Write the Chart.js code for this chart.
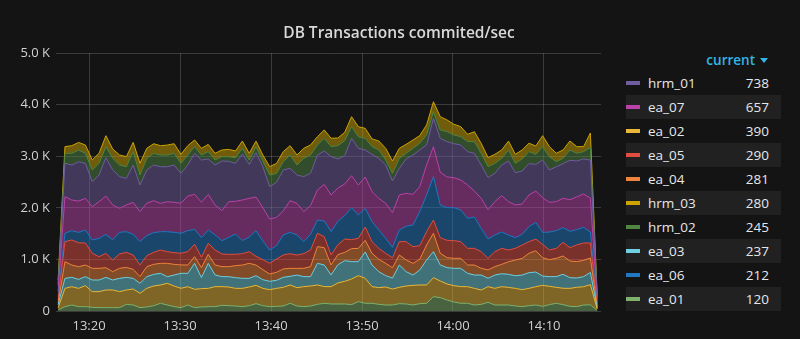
<!DOCTYPE html>
<html>
<head>
<meta charset="utf-8">
<script src="https://cdn.jsdelivr.net/npm/chart.js@4.4.1/dist/chart.umd.min.js"></script>
<style>
    body { margin: 0; background: #141414; font-family: "Open Sans", sans-serif; }
    #wrap { position: relative; width: 800px; height: 339px; overflow: hidden; }
    #title { position: absolute; top: 20px; left: 0; width: 798px; text-align: center; color: #d8d9da; font-size: 15.5px; font-weight: 600; line-height: 24px; }
    #chart { position: absolute; left: 0; top: 0; }
    #legend { position: absolute; left: 626px; top: 50px; width: 155px; color: #e6e8ea; font-size: 13.5px; }
    #legend .head { height: 21px; line-height: 21px; text-align: right; padding-right: 13px; color: #33b5e5; font-weight: 600; }
    #legend .caret { display: inline-block; margin-left: 5px; vertical-align: 2px; border-left: 4px solid transparent; border-right: 4px solid transparent; border-top: 5px solid #33b5e5; }
    #legend .row { position: relative; height: 24px; line-height: 24px; }
    #legend .row:nth-child(even) { background: #212121; }
    #legend .swatch { position: absolute; left: 0; top: 10px; width: 14px; height: 4px; }
    #legend .name { position: absolute; left: 22px; }
    #legend .val { position: absolute; right: 12px; }
</style>
</head>
<body>
<div id="wrap">
    <canvas id="chart" width="612" height="339"></canvas>
    <div id="title">DB Transactions commited/sec</div>
    <div id="legend"></div>
</div>
<script>
var times = ['13:16:36', '13:17:21', '13:18:06', '13:18:51', '13:19:36', '13:20:21', '13:21:06', '13:21:51', '13:22:36', '13:23:21',
    '13:24:06', '13:24:51', '13:25:36', '13:26:21', '13:27:06', '13:27:51', '13:28:36', '13:29:21', '13:30:06', '13:30:51',
    '13:31:36', '13:32:21', '13:33:06', '13:33:51', '13:34:36', '13:35:21', '13:36:06', '13:36:51', '13:37:36', '13:38:21',
    '13:39:06', '13:39:51', '13:40:36', '13:41:21', '13:42:06', '13:42:51', '13:43:36', '13:44:21', '13:45:06', '13:45:51',
    '13:46:36', '13:47:21', '13:48:06', '13:48:51', '13:49:36', '13:50:21', '13:51:06', '13:51:51', '13:52:36', '13:53:21',
    '13:54:06', '13:54:51', '13:55:36', '13:56:21', '13:57:06', '13:57:51', '13:58:36', '13:59:21', '14:00:06', '14:00:51',
    '14:01:36', '14:02:21', '14:03:06', '14:03:51', '14:04:36', '14:05:21', '14:06:06', '14:06:51', '14:07:36', '14:08:21',
    '14:09:06', '14:09:51', '14:10:36', '14:11:21', '14:12:06', '14:12:51', '14:13:36', '14:14:21', '14:15:06', '14:15:51'];
var tickLabels = ['13:20', '13:30', '13:40', '13:50', '14:00', '14:10'];
var yTicks = [0, 1000, 2000, 3000, 4000, 5000];

// stacked bottom -> top
var names = ['ea_01', 'ea_02', 'ea_03', 'ea_04', 'ea_05', 'ea_06', 'ea_07', 'hrm_01', 'hrm_02', 'hrm_03'];

var ea_01 = [20, 84, 116, 84, 84, 71, 65, 65, 65, 65, 129, 116, 65, 78, 103, 149, 116, 84, 65, 116,
    65, 78, 84, 84, 110, 103, 97, 84, 103, 142, 103, 84, 90, 97, 149, 97, 84, 97, 129, 149,
    136, 136, 136, 123, 181, 149, 149, 129, 116, 116, 142, 136, 116, 142, 149, 278, 258, 213, 174, 149,
    149, 116, 129, 168, 116, 116, 116, 97, 84, 103, 116, 90, 123, 149, 123, 90, 84, 116, 120, 10];
var ea_02 = [40, 355, 355, 355, 407, 304, 310, 342, 342, 310, 278, 310, 278, 362, 381, 355, 420, 400, 375, 355,
    355, 355, 355, 388, 362, 362, 342, 355, 362, 355, 336, 329, 349, 362, 355, 355, 388, 388, 375, 323,
    336, 407, 439, 497, 504, 485, 323, 323, 349, 310, 317, 349, 381, 362, 355, 368, 323, 310, 317, 323,
    323, 323, 278, 304, 323, 355, 342, 342, 329, 336, 355, 407, 355, 310, 317, 349, 375, 355, 390, 30];
var ea_03 = [60, 194, 181, 174, 174, 226, 226, 245, 194, 258, 245, 207, 194, 226, 226, 226, 129, 213, 291, 258,
    504, 213, 485, 226, 194, 200, 207, 194, 168, 187, 168, 162, 155, 194, 168, 245, 194, 181, 420, 420,
    226, 355, 400, 336, 271, 510, 420, 310, 220, 213, 433, 278, 200, 291, 485, 504, 310, 317, 336, 355,
    258, 258, 291, 162, 258, 252, 252, 245, 284, 304, 284, 181, 187, 207, 271, 207, 181, 194, 237, 20];
var ea_04 = [40, 323, 239, 245, 226, 226, 226, 187, 162, 194, 194, 174, 129, 194, 194, 194, 258, 207, 162, 162,
    129, 194, 174, 194, 194, 194, 233, 258, 291, 207, 194, 142, 155, 162, 155, 129, 162, 194, 323, 335,
    194, 194, 162, 252, 258, 226, 226, 239, 239, 200, 194, 226, 226, 207, 291, 355, 226, 194, 194, 194,
    162, 194, 129, 162, 162, 181, 245, 304, 323, 375, 413, 355, 329, 355, 355, 323, 317, 317, 281, 25];
var ea_05 = [60, 388, 485, 465, 426, 291, 226, 278, 226, 278, 291, 278, 226, 213, 233, 258, 226, 226, 226, 258,
    239, 200, 213, 291, 245, 239, 220, 220, 226, 168, 194, 207, 258, 271, 284, 258, 284, 323, 258, 213,
    194, 194, 258, 174, 194, 258, 226, 213, 194, 194, 258, 355, 323, 265, 258, 258, 304, 336, 342, 323,
    323, 323, 323, 226, 291, 310, 226, 226, 258, 226, 226, 258, 187, 194, 265, 258, 323, 336, 290, 25];
var ea_06 = [60, 162, 181, 200, 252, 258, 355, 368, 388, 420, 400, 400, 452, 388, 381, 355, 388, 394, 388, 407,
    291, 381, 258, 291, 258, 329, 394, 252, 284, 497, 362, 258, 258, 388, 413, 388, 233, 304, 258, 304,
    452, 452, 452, 620, 452, 362, 388, 355, 291, 200, 226, 297, 420, 659, 711, 840, 633, 633, 640, 614,
    581, 607, 452, 375, 323, 317, 291, 207, 207, 291, 323, 233, 349, 342, 284, 317, 297, 304, 212, 20];
var ea_07 = [100, 711, 594, 607, 614, 646, 711, 743, 678, 465, 517, 620, 581, 627, 620, 549, 581, 581, 581, 672,
    678, 685, 691, 581, 581, 691, 633, 788, 749, 652, 646, 601, 549, 465, 614, 614, 581, 556, 581, 711,
    711, 646, 614, 620, 581, 607, 581, 614, 678, 672, 678, 640, 594, 485, 581, 581, 633, 594, 581, 581,
    646, 504, 581, 562, 646, 704, 646, 633, 588, 614, 607, 672, 575, 562, 569, 614, 633, 646, 657, 50];
var hrm_01 = [100, 646, 678, 762, 678, 485, 517, 743, 678, 614, 517, 724, 517, 646, 691, 711, 678, 724, 581, 601,
    795, 820, 685, 775, 963, 782, 736, 891, 659, 859, 795, 627, 678, 795, 627, 549, 678, 627, 678, 646,
    743, 562, 549, 724, 711, 523, 724, 775, 743, 614, 517, 665, 762, 711, 388, 549, 659, 685, 659, 678,
    646, 730, 646, 627, 549, 594, 788, 627, 640, 607, 517, 730, 627, 678, 672, 762, 698, 678, 738, 60];
var hrm_02 = [50, 194, 226, 226, 194, 226, 226, 213, 226, 226, 226, 258, 194, 226, 226, 226, 226, 226, 194, 194,
    129, 97, 142, 97, 84, 90, 110, 110, 84, 116, 110, 226, 174, 162, 258, 194, 355, 355, 194, 245,
    194, 258, 291, 226, 226, 226, 149, 162, 97, 149, 194, 110, 129, 129, 194, 129, 162, 194, 168, 162,
    194, 226, 226, 213, 194, 129, 213, 181, 233, 233, 194, 258, 258, 97, 103, 200, 149, 142, 245, 20];
var hrm_03 = [70, 129, 149, 149, 162, 194, 194, 213, 181, 194, 194, 181, 226, 194, 187, 181, 194, 187, 174, 181,
    129, 129, 142, 129, 129, 142, 129, 142, 129, 110, 116, 162, 194, 194, 181, 194, 194, 194, 162, 162,
    162, 149, 162, 194, 194, 194, 149, 174, 226, 239, 194, 174, 162, 149, 194, 194, 258, 226, 207, 194,
    142, 194, 194, 174, 174, 162, 174, 174, 174, 162, 162, 213, 194, 162, 162, 174, 129, 97, 280, 40];

var values = [ea_01, ea_02, ea_03, ea_04, ea_05, ea_06, ea_07, hrm_01, hrm_02, hrm_03];
var colors = ['#7EB26D', '#EAB839', '#6ED0E0', '#EF843C', '#E24D42', '#1F78C1', '#BA43A9', '#705DA0', '#508642', '#CCA300'];

function toMin(s) {
    var p = s.split(':').map(Number);
    return p[0] * 60 + p[1] + (p[2] || 0) / 60;
}

window.addEventListener("load", function () {
    Chart.defaults.font.family = "'Open Sans', sans-serif";
    Chart.defaults.font.size = 13;
    Chart.defaults.color = '#d0d1d2';

    var datasets = names.map(function (name, k) {
        return {
            label: name,
            data: values[k].map(function (v, i) { return { x: toMin(times[i]), y: v }; }),
            borderColor: colors[k],
            backgroundColor: colors[k] + '80',
            borderWidth: 1,
            pointRadius: 0,
            tension: 0,
            fill: k === 0 ? 'origin' : '-1'
        };
    });

    var ctx = document.getElementById('chart').getContext('2d');
    var txChart = new Chart(ctx, {
        type: 'line',
        data: { datasets: datasets },
        options: {
            responsive: false,
            animation: false,
            layout: { padding: { top: 53, right: 11, bottom: 0, left: 0 } },
            plugins: { legend: { display: false }, tooltip: { enabled: false } },
            scales: {
                x: {
                    type: 'linear',
                    min: toMin('13:16:22'),
                    max: toMin('14:16:16'),
                    afterBuildTicks: function (scale) {
                        scale.ticks = tickLabels.map(function (t) { return { value: toMin(t) }; });
                    },
                    afterFit: function (scale) { scale.height = 28; },
                    grid: { color: 'rgba(255,255,255,0.17)', drawTicks: false },
                    border: { display: false },
                    ticks: {
                        padding: 7,
                        maxRotation: 0,
                        callback: function (v) {
                            var h = Math.floor(v / 60), m = Math.round(v - h * 60);
                            return h + ':' + String(m).padStart(2, '0');
                        }
                    }
                },
                y: {
                    stacked: true,
                    min: 0,
                    max: 5000,
                    afterBuildTicks: function (scale) {
                        scale.ticks = yTicks.map(function (v) { return { value: v }; });
                    },
                    afterFit: function (scale) { scale.width = 56; },
                    grid: { color: 'rgba(255,255,255,0.17)', drawTicks: false },
                    border: { display: false },
                    ticks: {
                        padding: 6,
                        callback: function (v) { return v === 0 ? '0' : (v / 1000).toFixed(1) + ' K'; }
                    }
                }
            }
        }
    });

    // legend table sorted by the last full sample
    var last = times.length - 2;
    var order = names.map(function (n, k) { return k; })
        .sort(function (a, b) { return values[b][last] - values[a][last]; });
    var html = '<div class="head">current<span class="caret"></span></div><div>';
    order.forEach(function (k) {
        html += '<div class="row"><span class="swatch" style="background:' + colors[k] + '"></span>' +
            '<span class="name">' + names[k] + '</span><span class="val">' + values[k][last] + '</span></div>';
    });
    document.getElementById('legend').innerHTML = html + '</div>';
});
</script>
</body>
</html>
